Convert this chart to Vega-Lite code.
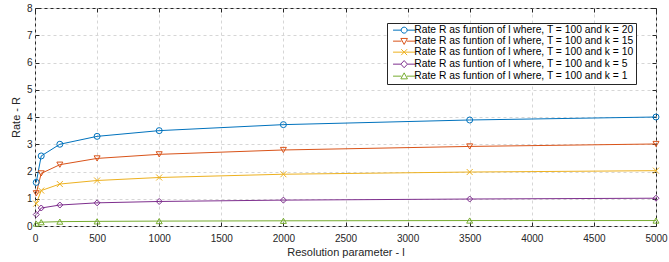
{
  "$schema": "https://vega.github.io/schema/vega-lite/v6.json",
  "width": 621,
  "height": 218,
  "autosize": {"type": "none"},
  "padding": {"left": 35, "top": 8, "right": 13, "bottom": 36},
  "background": "white",
  "config": {
    "view": {"stroke": "#262626", "strokeWidth": 1},
    "font": "Liberation Sans"
  },
  "data": {
    "values": [
      {"l": 10, "R": 1.6, "series": "Rate R as funtion of l where, T = 100 and k = 20"},
      {"l": 50, "R": 2.57, "series": "Rate R as funtion of l where, T = 100 and k = 20"},
      {"l": 200, "R": 3.0, "series": "Rate R as funtion of l where, T = 100 and k = 20"},
      {"l": 500, "R": 3.29, "series": "Rate R as funtion of l where, T = 100 and k = 20"},
      {"l": 1000, "R": 3.5, "series": "Rate R as funtion of l where, T = 100 and k = 20"},
      {"l": 2000, "R": 3.72, "series": "Rate R as funtion of l where, T = 100 and k = 20"},
      {"l": 3500, "R": 3.89, "series": "Rate R as funtion of l where, T = 100 and k = 20"},
      {"l": 5000, "R": 4.0, "series": "Rate R as funtion of l where, T = 100 and k = 20"},
      {"l": 10, "R": 1.2, "series": "Rate R as funtion of l where, T = 100 and k = 15"},
      {"l": 50, "R": 1.93, "series": "Rate R as funtion of l where, T = 100 and k = 15"},
      {"l": 200, "R": 2.25, "series": "Rate R as funtion of l where, T = 100 and k = 15"},
      {"l": 500, "R": 2.48, "series": "Rate R as funtion of l where, T = 100 and k = 15"},
      {"l": 1000, "R": 2.63, "series": "Rate R as funtion of l where, T = 100 and k = 15"},
      {"l": 2000, "R": 2.79, "series": "Rate R as funtion of l where, T = 100 and k = 15"},
      {"l": 3500, "R": 2.92, "series": "Rate R as funtion of l where, T = 100 and k = 15"},
      {"l": 5000, "R": 3.01, "series": "Rate R as funtion of l where, T = 100 and k = 15"},
      {"l": 10, "R": 0.82, "series": "Rate R as funtion of l where, T = 100 and k = 10"},
      {"l": 50, "R": 1.3, "series": "Rate R as funtion of l where, T = 100 and k = 10"},
      {"l": 200, "R": 1.54, "series": "Rate R as funtion of l where, T = 100 and k = 10"},
      {"l": 500, "R": 1.67, "series": "Rate R as funtion of l where, T = 100 and k = 10"},
      {"l": 1000, "R": 1.78, "series": "Rate R as funtion of l where, T = 100 and k = 10"},
      {"l": 2000, "R": 1.9, "series": "Rate R as funtion of l where, T = 100 and k = 10"},
      {"l": 3500, "R": 1.98, "series": "Rate R as funtion of l where, T = 100 and k = 10"},
      {"l": 5000, "R": 2.03, "series": "Rate R as funtion of l where, T = 100 and k = 10"},
      {"l": 10, "R": 0.42, "series": "Rate R as funtion of l where, T = 100 and k = 5"},
      {"l": 50, "R": 0.66, "series": "Rate R as funtion of l where, T = 100 and k = 5"},
      {"l": 200, "R": 0.77, "series": "Rate R as funtion of l where, T = 100 and k = 5"},
      {"l": 500, "R": 0.85, "series": "Rate R as funtion of l where, T = 100 and k = 5"},
      {"l": 1000, "R": 0.9, "series": "Rate R as funtion of l where, T = 100 and k = 5"},
      {"l": 2000, "R": 0.95, "series": "Rate R as funtion of l where, T = 100 and k = 5"},
      {"l": 3500, "R": 0.99, "series": "Rate R as funtion of l where, T = 100 and k = 5"},
      {"l": 5000, "R": 1.02, "series": "Rate R as funtion of l where, T = 100 and k = 5"},
      {"l": 10, "R": 0.09, "series": "Rate R as funtion of l where, T = 100 and k = 1"},
      {"l": 50, "R": 0.14, "series": "Rate R as funtion of l where, T = 100 and k = 1"},
      {"l": 200, "R": 0.16, "series": "Rate R as funtion of l where, T = 100 and k = 1"},
      {"l": 500, "R": 0.17, "series": "Rate R as funtion of l where, T = 100 and k = 1"},
      {"l": 1000, "R": 0.18, "series": "Rate R as funtion of l where, T = 100 and k = 1"},
      {"l": 2000, "R": 0.19, "series": "Rate R as funtion of l where, T = 100 and k = 1"},
      {"l": 3500, "R": 0.2, "series": "Rate R as funtion of l where, T = 100 and k = 1"},
      {"l": 5000, "R": 0.2, "series": "Rate R as funtion of l where, T = 100 and k = 1"}
    ]
  },
  "encoding": {
    "x": {
      "field": "l", "type": "quantitative",
      "scale": {"domain": [0, 5000], "nice": false, "zero": false},
      "axis": null
    },
    "y": {
      "field": "R", "type": "quantitative",
      "scale": {"domain": [0, 8], "nice": false},
      "axis": null
    },
    "color": {
      "field": "series", "type": "nominal",
      "scale": {
        "domain": [
          "Rate R as funtion of l where, T = 100 and k = 20",
          "Rate R as funtion of l where, T = 100 and k = 15",
          "Rate R as funtion of l where, T = 100 and k = 10",
          "Rate R as funtion of l where, T = 100 and k = 5",
          "Rate R as funtion of l where, T = 100 and k = 1"
        ],
        "range": ["#0072BD", "#D95319", "#EDB120", "#7E2F8E", "#77AC30"]
      },
      "legend": {
        "orient": "none", "legendX": 352, "legendY": 15, "title": null,
        "padding": 2, "fillColor": "white", "strokeColor": "#262626",
        "symbolSize": 36, "symbolStrokeWidth": 1, "symbolOffset": 10, "labelOffset": 5,
        "labelFontSize": 10.3, "labelFont": "Liberation Sans", "labelColor": "#000000", "labelLimit": 400,
        "rowPadding": 0
      }
    }
  },
  "layer": [
    {
      "mark": {"type": "line", "strokeWidth": 1},
      "encoding": {
        "x": {
          "field": "l", "type": "quantitative",
          "axis": {
            "orient": "bottom",
            "values": [0, 500, 1000, 1500, 2000, 2500, 3000, 3500, 4000, 4500, 5000],
            "format": "d",
            "grid": true, "gridDash": [3, 3], "gridColor": "#d6d6d6", "gridWidth": 1,
            "domain": false,
            "tickSize": -4, "tickColor": "#262626",
            "labelColor": "#262626", "labelFontSize": 10, "labelFont": "Liberation Sans", "labelPadding": 11,
            "labelFlush": false, "labelOverlap": false,
            "title": "Resolution parameter - l", "titleFontSize": 11, "titleFontWeight": "normal",
            "titleColor": "#262626", "titleFont": "Liberation Sans", "titlePadding": 3
          }
        },
        "y": {
          "field": "R", "type": "quantitative",
          "axis": {
            "orient": "left",
            "values": [0, 1, 2, 3, 4, 5, 6, 7, 8],
            "grid": true, "gridDash": [3, 3], "gridColor": "#d6d6d6", "gridWidth": 1,
            "domain": false,
            "tickSize": -4, "tickColor": "#262626",
            "labelColor": "#262626", "labelFontSize": 10, "labelFont": "Liberation Sans", "labelPadding": 7,
            "labelFlush": false, "labelOverlap": false,
            "title": "Rate - R", "titleFontSize": 11, "titleFontWeight": "normal",
            "titleColor": "#262626", "titleFont": "Liberation Sans", "titlePadding": 5
          }
        }
      }
    },
    {
      "mark": {"type": "line", "strokeWidth": 0, "strokeOpacity": 0},
      "encoding": {
        "x": {
          "field": "l", "type": "quantitative",
          "axis": {"orient": "top", "values": [0, 500, 1000, 1500, 2000, 2500, 3000, 3500, 4000, 4500, 5000],
            "labels": false, "grid": false, "domain": false, "tickSize": -4, "tickColor": "#262626", "title": null}
        },
        "y": {
          "field": "R", "type": "quantitative",
          "axis": {"orient": "right", "values": [0, 1, 2, 3, 4, 5, 6, 7, 8],
            "labels": false, "grid": false, "domain": false, "tickSize": -4, "tickColor": "#262626", "title": null}
        }
      }
    },
    {
      "transform": [{"filter": {"field": "series", "equal": "Rate R as funtion of l where, T = 100 and k = 20"}}],
      "mark": {"type": "point", "shape": "circle", "filled": false, "size": 36, "strokeWidth": 1, "opacity": 1}
    },
    {
      "transform": [{"filter": {"field": "series", "equal": "Rate R as funtion of l where, T = 100 and k = 15"}}],
      "mark": {"type": "point", "shape": "triangle-down", "filled": false, "size": 36, "strokeWidth": 1, "opacity": 1}
    },
    {
      "transform": [{"filter": {"field": "series", "equal": "Rate R as funtion of l where, T = 100 and k = 10"}}],
      "mark": {"type": "point", "shape": "M-1,-1L1,1M-1,1L1,-1", "filled": false, "size": 36, "strokeWidth": 1, "opacity": 1}
    },
    {
      "transform": [{"filter": {"field": "series", "equal": "Rate R as funtion of l where, T = 100 and k = 5"}}],
      "mark": {"type": "point", "shape": "diamond", "filled": false, "size": 36, "strokeWidth": 1, "opacity": 1}
    },
    {
      "transform": [{"filter": {"field": "series", "equal": "Rate R as funtion of l where, T = 100 and k = 1"}}],
      "mark": {"type": "point", "shape": "triangle-up", "filled": false, "size": 36, "strokeWidth": 1, "opacity": 1}
    },
    {
      "transform": [{"filter": "datum.l < 0"}],
      "mark": {"type": "point", "filled": false, "size": 36, "strokeWidth": 1, "opacity": 1},
      "encoding": {
        "shape": {
          "field": "series", "type": "nominal",
          "scale": {
            "domain": [
              "Rate R as funtion of l where, T = 100 and k = 20",
              "Rate R as funtion of l where, T = 100 and k = 15",
              "Rate R as funtion of l where, T = 100 and k = 10",
              "Rate R as funtion of l where, T = 100 and k = 5",
              "Rate R as funtion of l where, T = 100 and k = 1"
            ],
            "range": [
              "M-3.7,0L-1,0M1,0L3.7,0M-1,0A1,1,0,1,0,1,0A1,1,0,1,0,-1,0",
              "M-3.7,0L-0.9,0M0.9,0L3.7,0M-1.1,-0.9L1.1,-0.9L0,1.1Z",
              "M-3.7,0L3.7,0M-1,-1L1,1M-1,1L1,-1",
              "M-3.7,0L-1.1,0M1.1,0L3.7,0M0,-1.2L1.1,0L0,1.2L-1.1,0Z",
              "M-3.7,0L-0.9,0M0.9,0L3.7,0M-1.1,0.9L1.1,0.9L0,-1.1Z"
            ]
          },
          "legend": {
            "orient": "none", "legendX": 352, "legendY": 15, "title": null,
            "padding": 2, "fillColor": "white", "strokeColor": "#262626",
            "symbolSize": 36, "symbolStrokeWidth": 1, "symbolOffset": 10, "labelOffset": 5,
            "labelFontSize": 10.3, "labelFont": "Liberation Sans", "labelColor": "#000000", "labelLimit": 400,
            "rowPadding": 0
          }
        }
      }
    }
  ],
  "resolve": {
    "axis": {"x": "independent", "y": "independent"}
  }
}
